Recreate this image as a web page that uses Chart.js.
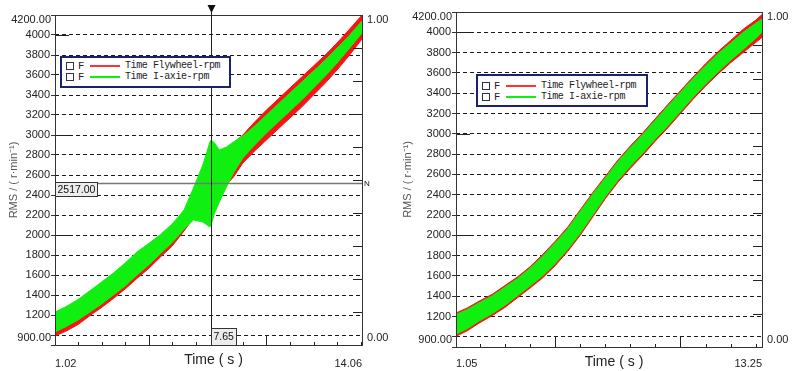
<!DOCTYPE html>
<html>
<head>
<meta charset="utf-8">
<script src="https://cdn.jsdelivr.net/npm/chart.js@4.4.1/dist/chart.umd.min.js"></script>
<style>
  body { margin: 0; background: #fff; }
  #wrap { position: relative; width: 793px; height: 371px; overflow: hidden; }
  canvas { position: absolute; top: 0; }
  #left-chart { left: 0; }
  #right-chart { left: 400px; }
  .legend { position: absolute; box-sizing: border-box; border: 2px solid #1c2070; background: #fff;
            padding-left: 4px; font-family: "Liberation Mono", monospace; color: #222; }
  .legend .row { display: flex; align-items: center; height: 11px; }
  .legend .chk { width: 6px; height: 6px; border: 1px solid #333; }
  .legend .f { width: 10px; margin-left: 4px; font-size: 10.5px; }
  .legend .swatch { width: 30px; height: 2px; margin-left: 2px; }
  .legend .lbl { margin-left: 5px; font-size: 10px; letter-spacing: -0.4px; white-space: nowrap; }
</style>
</head>
<body>
<div id="wrap">
  <canvas id="left-chart" width="400" height="371"></canvas>
  <canvas id="right-chart" width="393" height="371"></canvas>

  <div class="legend" style="left:60px;top:56px;width:171px;height:32px;padding-top:2px">
    <div class="row"><span class="chk"></span><span class="f">F</span><span class="swatch" style="background:#ff3030"></span><span class="lbl">Time Flywheel-rpm</span></div>
    <div class="row"><span class="chk"></span><span class="f">F</span><span class="swatch" style="background:#10f010"></span><span class="lbl">Time I-axie-rpm</span></div>
  </div>
  <div class="legend" style="left:476px;top:74px;width:172px;height:33px;padding-top:4px">
    <div class="row"><span class="chk"></span><span class="f">F</span><span class="swatch" style="background:#ff3030"></span><span class="lbl">Time Flywheel-rpm</span></div>
    <div class="row"><span class="chk"></span><span class="f">F</span><span class="swatch" style="background:#10f010"></span><span class="lbl">Time I-axie-rpm</span></div>
  </div>
</div>

<script>
// y axis (rpm) shared by both panels
const yMin = 900;
const yMax = 4200;
const yTicks = [900, 1000, 1200, 1400, 1600, 1800, 2000, 2200, 2400, 2600, 2800, 3000, 3200, 3400, 3600, 3800, 4000, 4200];
const yMajorTicks = [2000, 3000, 4000];
const xMajorTicks = [5, 10];

// left panel: time (s) and band edges of each signal
const leftTime = [1.02, 1.5, 2.0, 2.6, 3.0, 3.5, 4.0, 4.5, 5.0, 5.5, 6.0, 6.5, 6.9, 7.3, 7.6, 7.65, 7.8, 8.0, 8.3, 8.6, 9.0, 9.5, 10.0, 10.5, 11.0, 11.5, 12.0, 12.5, 13.0, 13.5, 14.06];
const leftFlywheelUpper = [1200, 1255, 1325, 1430, 1500, 1590, 1690, 1800, 1885, 1975, 2080, 2220, 2400, 2550, 2650, 2660, 2700, 2760, 2840, 2920, 3000, 3130, 3250, 3360, 3470, 3580, 3690, 3800, 3920, 4050, 4200];
const leftFlywheelLower = [990, 1040, 1105, 1210, 1275, 1365, 1460, 1565, 1665, 1780, 1890, 2040, 2170, 2250, 2330, 2340, 2380, 2420, 2500, 2580, 2720, 2840, 2950, 3060, 3170, 3280, 3400, 3520, 3650, 3790, 3960];
const leftAxleUpper = [1230, 1285, 1355, 1460, 1530, 1620, 1720, 1830, 1915, 2005, 2110, 2250, 2470, 2700, 2930, 2950, 2920, 2850, 2880, 2930, 2990, 3090, 3200, 3310, 3420, 3530, 3640, 3750, 3870, 3990, 4140];
const leftAxleLower = [1030, 1085, 1150, 1245, 1310, 1400, 1490, 1600, 1700, 1815, 1925, 2060, 2150, 2130, 2080, 2100, 2220, 2330, 2480, 2620, 2770, 2900, 3020, 3130, 3240, 3350, 3470, 3590, 3720, 3860, 4020];
const leftXTicks = [1.02, 2, 3, 4, 5, 6, 7, 8, 9, 10, 11, 12, 13, 14, 14.06];
const cursorTime = 7.65;
const cursorValue = 2517;

// right panel
const rightTime = [1.05, 1.5, 2.0, 2.5, 3.0, 3.5, 4.0, 4.5, 5.0, 5.5, 6.0, 6.5, 7.0, 7.5, 8.0, 8.5, 9.0, 9.5, 10.0, 10.5, 11.0, 11.5, 12.0, 12.5, 13.0, 13.25];
const rightFlywheelUpper = [1235, 1285, 1355, 1420, 1505, 1590, 1690, 1810, 1940, 2080, 2250, 2420, 2580, 2740, 2880, 3010, 3150, 3290, 3425, 3560, 3690, 3810, 3920, 4030, 4120, 4175];
const rightFlywheelLower = [1005, 1060, 1140, 1210, 1290, 1385, 1480, 1580, 1700, 1840, 2000, 2180, 2360, 2520, 2660, 2790, 2930, 3060, 3200, 3340, 3470, 3590, 3700, 3800, 3900, 3950];
const rightAxleUpper = [1220, 1270, 1340, 1405, 1490, 1575, 1675, 1795, 1925, 2065, 2235, 2405, 2565, 2725, 2865, 2995, 3135, 3275, 3410, 3545, 3670, 3790, 3895, 4000, 4090, 4130];
const rightAxleLower = [1025, 1080, 1160, 1230, 1310, 1405, 1500, 1600, 1720, 1860, 2020, 2200, 2380, 2540, 2680, 2810, 2950, 3080, 3220, 3360, 3490, 3610, 3725, 3830, 3940, 4000];
const rightXTicks = [1.05, 2, 3, 4, 5, 6, 7, 8, 9, 10, 11, 12, 13, 13.25];

const fontFamily = '"Liberation Sans", Arial, sans-serif';
const red = '#f81414';
const green = '#10f010';

function band(time, values, color, fill) {
    return {
        data: time.map((t, i) => ({ x: t, y: values[i] })),
        borderColor: color,
        backgroundColor: color,
        borderWidth: 1,
        pointRadius: 0,
        tension: 0,
        fill: fill
    };
}

// frame, inward ticks, end labels, x title and the read-out cursor
function makeFrame(s) {
    return {
        id: 'frame',
        afterDatasetsDraw(chart) {
            const ctx = chart.ctx;
            const a = chart.chartArea;
            const x = chart.scales.x, y = chart.scales.y, y2 = chart.scales.y2;
            const px = v => Math.round(v) + 0.5;
            ctx.save();
            ctx.setLineDash([]);
            ctx.lineWidth = 1;
            ctx.strokeStyle = '#222';
            ctx.beginPath();
            yMajorTicks.forEach(v => {
                const yy = px(y.getPixelForValue(v));
                ctx.moveTo(a.left, yy);
                ctx.lineTo(a.left + 14, yy);
            });
            x.ticks.forEach(t => {
                if (t.value === x.min || t.value === x.max) return;
                const xx = px(x.getPixelForValue(t.value));
                const len = xMajorTicks.includes(t.value) ? 10 : 3;
                ctx.moveTo(xx, a.bottom);
                ctx.lineTo(xx, a.bottom - len);
            });
            y2.ticks.forEach(t => {
                if (t.value <= 0 || t.value >= 1) return;
                const yy = px(y2.getPixelForValue(t.value));
                const len = Math.round(t.value * 100) % 10 === 0 ? 9 : 5;
                ctx.moveTo(a.right, yy);
                ctx.lineTo(a.right - len, yy);
            });
            ctx.stroke();

            ctx.strokeStyle = '#333';
            ctx.strokeRect(px(a.left), px(a.top), Math.round(a.right - a.left), Math.round(a.bottom - a.top));

            ctx.font = '11px ' + fontFamily;
            ctx.fillStyle = '#222';
            ctx.textBaseline = 'middle';
            ctx.textAlign = 'right';
            ctx.fillText(y.max.toFixed(2), a.left - 4, a.top + 5);
            ctx.fillText(y.min.toFixed(2), a.left - 4, a.bottom - 7);
            ctx.textAlign = 'left';
            ctx.fillText(y2.max.toFixed(2), a.right + 5, a.top + 5);
            ctx.fillText(y2.min.toFixed(2), a.right + 5, a.bottom - 7);

            ctx.font = '14px ' + fontFamily;
            ctx.textAlign = 'center';
            ctx.fillText('Time ( s )', (a.left + a.right) / 2 + 5, a.bottom + 15);

            if (s.cursor) {
                const cx = px(x.getPixelForValue(s.cursor.time));
                const cy = px(y.getPixelForValue(s.cursor.value));
                ctx.strokeStyle = '#777';
                ctx.lineWidth = 1.5;
                ctx.beginPath();
                ctx.moveTo(a.left, cy);
                ctx.lineTo(a.right, cy);
                ctx.stroke();

                ctx.strokeStyle = '#222';
                ctx.lineWidth = 1;
                ctx.beginPath();
                ctx.moveTo(cx, a.top - 3);
                ctx.lineTo(cx, a.bottom);
                ctx.stroke();
                ctx.fillStyle = '#111';
                ctx.beginPath();
                ctx.moveTo(cx - 4, a.top - 10);
                ctx.lineTo(cx + 4, a.top - 10);
                ctx.lineTo(cx, a.top - 2);
                ctx.closePath();
                ctx.fill();

                ctx.font = '10.5px ' + fontFamily;
                const vText = s.cursor.value.toFixed(2);
                const vw = Math.ceil(ctx.measureText(vText).width) + 4;
                ctx.fillStyle = '#ececec';
                ctx.fillRect(px(a.left), cy - 1, vw, 14);
                ctx.strokeStyle = '#333';
                ctx.strokeRect(px(a.left), cy - 1, vw, 14);
                ctx.fillStyle = '#111';
                ctx.textAlign = 'left';
                ctx.fillText(vText, a.left + 2.5, cy + 6.5);

                const tText = s.cursor.time.toFixed(2);
                const tw = Math.ceil(ctx.measureText(tText).width) + 4;
                ctx.fillStyle = '#ececec';
                ctx.fillRect(cx, px(a.bottom - 17), tw, 17);
                ctx.strokeRect(cx, px(a.bottom - 17), tw, 17);
                ctx.fillStyle = '#111';
                ctx.fillText(tText, cx + 2, a.bottom - 8);

                ctx.font = '8px ' + fontFamily;
                ctx.fillText('N', a.right + 2, cy);
            }
            ctx.restore();
        }
    };
}

function buildChart(canvasId, s) {
    const xMin = s.xTicks[0];
    const xMax = s.xTicks[s.xTicks.length - 1];
    return new Chart(document.getElementById(canvasId), {
        type: 'line',
        data: {
            datasets: [
                band(s.time, s.axleUpper, green, false),
                band(s.time, s.axleLower, green, '-1'),
                band(s.time, s.flywheelUpper, red, false),
                band(s.time, s.flywheelLower, red, '-1')
            ]
        },
        options: {
            responsive: false,
            animation: false,
            events: [],
            layout: { padding: { top: s.plotTop, left: 0, right: 0, bottom: 0 } },
            plugins: { legend: { display: false }, tooltip: { enabled: false } },
            scales: {
                x: {
                    type: 'linear',
                    min: xMin,
                    max: xMax,
                    afterBuildTicks: sc => { sc.ticks = s.xTicks.map(v => ({ value: v })); },
                    afterFit: sc => { sc.height = s.xAxisHeight; },
                    ticks: {
                        autoSkip: false,
                        maxRotation: 0,
                        align: 'inner',
                        padding: s.xLabelPad,
                        color: '#222',
                        font: { family: fontFamily, size: 11 },
                        callback: v => (v === xMin || v === xMax) ? v.toFixed(2) : ''
                    },
                    grid: { display: false },
                    border: { display: false }
                },
                y: {
                    type: 'linear',
                    min: yMin,
                    max: yMax,
                    afterBuildTicks: sc => { sc.ticks = yTicks.map(v => ({ value: v })); },
                    afterFit: sc => { sc.width = s.yAxisWidth; },
                    ticks: {
                        padding: 1,
                        color: '#222',
                        font: { family: fontFamily, size: 11 },
                        callback: v => (v === yMin || v === yMax || v === 1000) ? '' : String(v)
                    },
                    grid: {
                        color: c => (c.tick && (c.tick.value === yMin || c.tick.value === yMax)) ? 'rgba(0,0,0,0)' : '#1a1a1a',
                        lineWidth: 1,
                        tickColor: '#333',
                        tickLength: 4
                    },
                    border: { display: false, dash: [4, 3] },
                    title: {
                        display: true,
                        text: 'RMS / ( r·min⁻¹)',
                        color: '#555',
                        font: { family: fontFamily, size: 11 },
                        padding: { top: s.titlePad, bottom: 0 }
                    }
                },
                y2: {
                    type: 'linear',
                    position: 'right',
                    min: 0,
                    max: 1,
                    afterFit: sc => { sc.width = s.y2Width; },
                    ticks: { stepSize: 0.05, callback: () => '' },
                    grid: { display: false },
                    border: { display: false }
                }
            }
        },
        plugins: [makeFrame(s)]
    });
}

buildChart('left-chart', {
    time: leftTime,
    flywheelUpper: leftFlywheelUpper,
    flywheelLower: leftFlywheelLower,
    axleUpper: leftAxleUpper,
    axleLower: leftAxleLower,
    xTicks: leftXTicks,
    cursor: { time: cursorTime, value: cursorValue },
    plotTop: 15, xAxisHeight: 26, yAxisWidth: 55, y2Width: 38, xLabelPad: 4, titlePad: 7
});

buildChart('right-chart', {
    time: rightTime,
    flywheelUpper: rightFlywheelUpper,
    flywheelLower: rightFlywheelLower,
    axleUpper: rightAxleUpper,
    axleLower: rightAxleLower,
    xTicks: rightXTicks,
    cursor: null,
    plotTop: 12, xAxisHeight: 24, yAxisWidth: 56, y2Width: 31, xLabelPad: 2, titlePad: 1
});
</script>
</body>
</html>
